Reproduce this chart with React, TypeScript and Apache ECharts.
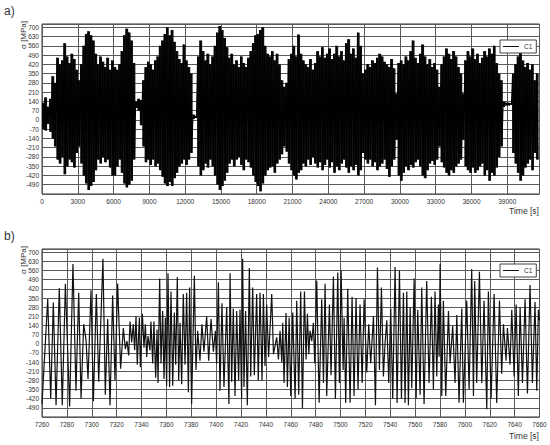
import React, { useEffect, useRef } from "react";
import * as echarts from "echarts";

// Panel a: per-bin envelope (max / min) of the stress signal, bins of 200 s starting at 0 s
const aBinWidth = 200;
const aHi = [
  130, 170, 100, 160, 330, 280, 470, 420, 450, 580, 480, 430, 500, 460, 380,
  300, 420, 560, 650, 670, 640, 600, 500, 420, 480, 440, 400, 470, 380, 450,
  400, 380, 420, 520, 640, 690, 660, 600, 430, 140, 160, 150, 300, 400, 440,
  420, 380, 450, 480, 560, 600, 650, 700, 640, 680, 590, 520, 460, 430, 570,
  450, 400, 350, 40, 30, 480, 600, 520, 450, 500, 420, 480, 560, 660, 710,
  680, 620, 550, 470, 500, 420, 450, 400, 480, 430, 400, 470, 520, 580, 640,
  650, 680, 700, 560, 500, 480, 520, 450, 500, 420, 300, 250, 280, 460, 500,
  560, 480, 645, 500, 450, 420, 400, 460, 380, 430, 520, 480, 550, 470, 500,
  540, 460, 500, 560, 480, 520, 450, 580, 610, 500, 540, 470, 660, 560, 350,
  380, 420, 400, 450, 430, 470, 500, 480, 440, 420, 400, 460, 390, 200, 430,
  450, 420, 480, 450, 520, 600, 470, 430, 500, 570, 480, 420, 460, 400, 430,
  380, 250, 420, 480, 540, 500, 460, 520, 480, 400, 350, 200, 450, 520, 480,
  540, 460, 500, 430, 470, 520, 480, 540, 500, 560, 430, 350, 300, 140, 130,
  130, 125, 350, 420, 480, 510, 450, 400, 430, 380, 420, 300, 350,
];
const aLo = [
  -70, -80, -30, -90, -140, -200, -300, -330, -280, -410, -350, -300, -320, -360, -250,
  -200, -330, -420, -480, -530, -500, -470, -380, -300, -330, -280, -320, -300, -360, -420,
  -420, -350, -300, -400, -480, -510, -490, -460, -300, 90, 70, -40, -200, -320, -300,
  -340, -300, -350, -330, -380, -430, -480, -500, -470, -500, -440, -400, -350, -330, -300,
  -340, -300, -250, 10, 15, -350, -420, -380, -330, -360, -300, -350, -420, -490, -530,
  -500, -460, -400, -330, -300, -350, -300, -280, -340, -380, -300, -320, -360, -420, -470,
  -500, -540, -480, -420, -380, -360, -350, -400, -330, -300, -260, -200, -240, -330, -380,
  -420, -450, -400, -380, -330, -350, -300, -340, -280, -330, -360, -320, -380, -340, -300,
  -360, -320, -400, -350, -380, -330, -300, -360, -400, -350, -380, -340, -420, -380, -250,
  -300, -330, -300, -350, -320, -380, -350, -330, -300, -370, -430, -350, -300, -150, -420,
  -460, -400, -350, -380, -340, -360, -320, -300, -350, -420, -440, -380, -330, -310, -340,
  -300, -200, -320, -360, -400, -420, -380, -400, -350, -330, -300, -150, -350, -380, -400,
  -360, -400, -380, -350, -330, -420, -380, -460, -400, -420, -360, -280, -200, 100, 110,
  110, 115, -250, -330, -400, -460, -420, -360, -330, -300, -380, -250, -300,
];

// Panel b: turning points of the signal between 7260 s and 7660 s
const bT = [
  7260.0, 7264.6, 7267.0, 7269.1, 7271.3, 7273.9, 7276.3, 7278.8, 7282.2, 7284.9,
  7287.3, 7289.5, 7291.4, 7293.5, 7295.4, 7297.0, 7299.4, 7301.3, 7303.7, 7305.6,
  7309.0, 7310.9, 7312.8, 7314.7, 7316.8, 7318.7, 7320.8, 7323.2, 7325.4, 7327.0,
  7328.3, 7329.7, 7330.8, 7332.1, 7333.4, 7334.5, 7335.6, 7336.6, 7338.3, 7339.1,
  7340.7, 7342.0, 7343.1, 7344.2, 7345.2, 7346.8, 7347.6, 7349.0, 7350.0, 7351.4,
  7352.5, 7353.3, 7354.6, 7355.7, 7357.0, 7358.1, 7359.2, 7360.2, 7361.3, 7362.6,
  7363.7, 7365.1, 7366.4, 7367.5, 7368.8, 7369.9, 7371.0, 7372.3, 7373.6, 7375.0,
  7376.3, 7377.7, 7378.7, 7380.3, 7382.5, 7383.8, 7385.2, 7387.0, 7388.6, 7390.2,
  7392.4, 7394.0, 7395.9, 7397.8, 7399.4, 7400.4, 7401.8, 7403.1, 7404.7, 7406.3,
  7408.5, 7410.3, 7411.2, 7412.5, 7413.8, 7415.2, 7416.5, 7418.1, 7419.2, 7420.5,
  7421.3, 7422.4, 7423.7, 7425.1, 7426.7, 7427.8, 7429.4, 7430.7, 7432.6, 7433.9,
  7435.3, 7436.9, 7438.0, 7439.3, 7440.6, 7442.2, 7444.7, 7446.1, 7448.7, 7450.1,
  7451.4, 7452.8, 7453.6, 7454.6, 7456.2, 7457.3, 7458.7, 7460.0, 7461.6, 7463.5,
  7464.8, 7466.4, 7468.0, 7469.4, 7471.0, 7472.3, 7473.4, 7474.5, 7475.5, 7476.9,
  7478.2, 7479.3, 7480.9, 7482.8, 7484.9, 7486.3, 7487.6, 7488.9, 7491.1, 7492.4,
  7494.3, 7495.9, 7497.8, 7499.1, 7500.5, 7502.1, 7502.9, 7504.2, 7505.8, 7507.7,
  7509.3, 7510.9, 7512.5, 7514.1, 7515.7, 7517.4, 7519.0, 7521.1, 7522.7, 7524.3,
  7526.5, 7528.1, 7529.7, 7531.3, 7532.9, 7534.5, 7535.8, 7537.2, 7538.8, 7540.4,
  7542.0, 7543.9, 7545.5, 7547.4, 7549.0, 7550.6, 7551.9, 7553.3, 7554.6, 7556.0,
  7557.3, 7559.2, 7560.8, 7562.1, 7564.0, 7565.3, 7567.2, 7569.3, 7571.2, 7573.1,
  7574.7, 7576.0, 7577.4, 7578.7, 7579.3, 7580.1, 7581.4, 7582.7, 7584.6, 7586.8,
  7588.1, 7590.2, 7592.1, 7593.5, 7595.3, 7597.5, 7598.8, 7601.5, 7603.4, 7605.5,
  7606.9, 7607.9, 7609.5, 7611.7, 7613.6, 7615.4, 7617.6, 7618.9, 7621.1, 7623.5,
  7625.6, 7627.8, 7629.6, 7631.0, 7633.1, 7634.2, 7636.3, 7637.7, 7639.6, 7641.2,
  7643.0, 7644.4, 7646.3, 7648.4, 7650.3, 7652.4, 7654.3, 7656.4, 7657.8, 7659.1,
  7660.0,
];
const bV = [
  -460, 343, -420, 316, -470, 427, -470, 460, -480, 610,
  -360, 390, -420, 150, 30, -270, 410, -440, 380, -290,
  650, -390, 190, -470, 370, -280, 460, -190, 120, -40,
  20, -90, 170, 10, 150, -50, 210, -160, 200, -180,
  230, -30, 150, -100, 60, -50, 170, -150, 170, -260,
  110, -300, 500, -150, 250, -270, 200, -320, 540, -330,
  400, -320, 240, -160, 510, -280, 160, -310, 380, -160,
  390, -370, 430, -460, 520, -200, 100, -130, 150, -60,
  210, -130, 190, -60, 100, -150, 470, -360, 310, -330,
  280, -460, 540, -290, 270, -400, 250, -280, 260, -420,
  650, -330, 250, -470, 580, -250, 430, -240, 380, -280,
  390, -280, 380, -170, 300, -100, 380, -80, 50, -120,
  100, -140, 160, -300, 236, -330, 200, -400, 240, -420,
  330, -390, 400, -495, 400, -120, 230, -80, 100, 20,
  160, -150, 484, -450, 340, -300, 460, -400, 300, -240,
  514, -420, 546, -300, 560, -200, 200, -452, 420, -450,
  360, -400, 350, -350, 300, -300, 340, -220, 150, -150,
  210, -470, 583, -200, 430, -250, 0, 180, -300, 270,
  -420, 588, -452, 560, -420, 390, -452, 400, -470, 280,
  -340, 500, -420, 260, -390, 430, -460, 480, -300, 360,
  -350, 400, -250, 300, -100, 613, -400, 330, -400, 250,
  -150, 137, -300, 220, -450, 270, -450, 330, -350, 571,
  -400, 480, -300, 550, -300, 330, -500, 400, -420, 380,
  -453, 330, -230, 150, -130, 120, -160, 260, -250, 300,
  -400, 280, -300, 340, -380, 450, -300, 320, -360, 260,
  180,
];

const yMin = -560;
const yMax = 725;
const yStep = 70;
const aTimeMax = 41700;
const aTimeStep = 3000;
const bTimeMin = 7260;
const bTimeMax = 7660;
const bTimeStep = 20;

const FONT = "'Liberation Sans', Arial, sans-serif";
const GRID_COLOR = "#5a5a5a";
const TEXT_COLOR = "#333";

export default function App() {
  const ref = useRef<HTMLDivElement>(null);

  useEffect(() => {
    if (!ref.current) return;
    const chart = echarts.init(ref.current, undefined, { renderer: "svg" });

    // zig-zag trace through each bin's maximum and minimum
    const aData: [number, number][] = [];
    for (let i = 0; i < aHi.length; i++) {
      const t = i * aBinWidth;
      aData.push([t + aBinWidth * 0.25, aHi[i]]);
      aData.push([t + aBinWidth * 0.75, aLo[i]]);
    }
    // dense core of each bin: [bin start, bin end, min, max]
    const aBins = aHi.map((v, i) => [i * aBinWidth, (i + 1) * aBinWidth, aLo[i], v]);
    const bData = bT.map((t, i) => [t, bV[i]]);

    const yLabel = (v: number) =>
      v >= -490 && v <= 700 && v % yStep === 0 ? String(v) : "";

    const yAxisCommon = (gridIndex: number) => ({
      type: "value" as const,
      gridIndex,
      min: yMin,
      max: yMax,
      interval: yStep,
      axisLine: { show: false },
      axisTick: { show: false },
      axisLabel: {
        fontSize: 6.5,
        fontFamily: FONT,
        color: TEXT_COLOR,
        margin: 3,
        formatter: yLabel,
      },
      splitLine: { show: true, lineStyle: { color: GRID_COLOR, width: 1 } },
    });

    const legendCommon = {
      orient: "horizontal" as const,
      data: ["C1"],
      left: 500,
      icon: "rect",
      itemWidth: 16,
      itemHeight: 1,
      itemGap: 0,
      padding: [3, 4, 3, 3],
      borderColor: "#444",
      borderWidth: 1,
      backgroundColor: "#fff",
      selectedMode: false,
      textStyle: { fontSize: 6.5, fontFamily: FONT, color: TEXT_COLOR, padding: [0, 0, 0, 0] },
    };

    chart.setOption({
      animation: false,
      backgroundColor: "#fff",
      grid: [
        { left: 42, top: 24, width: 497.5, height: 170, show: true, borderColor: "#333", borderWidth: 1, backgroundColor: "transparent" },
        { left: 42, top: 249, width: 497.5, height: 168, show: true, borderColor: "#333", borderWidth: 1, backgroundColor: "transparent" },
      ],
      xAxis: [
        {
          type: "value",
          gridIndex: 0,
          min: 0,
          max: aTimeMax,
          interval: aTimeStep,
          axisLine: { show: false },
          axisTick: { show: false },
          axisLabel: {
            fontSize: 6.5,
            fontFamily: FONT,
            color: TEXT_COLOR,
            margin: 4,
            formatter: (v: number) => (v % aTimeStep === 0 && v < aTimeMax ? String(v) : ""),
          },
          splitLine: { show: true, lineStyle: { color: GRID_COLOR, width: 1 } },
        },
        {
          type: "value",
          gridIndex: 1,
          min: bTimeMin,
          max: bTimeMax,
          interval: bTimeStep,
          axisLine: { show: false },
          axisTick: { show: false },
          axisLabel: {
            fontSize: 6.5,
            fontFamily: FONT,
            color: TEXT_COLOR,
            margin: 4,
            formatter: (v: number) => String(v),
          },
          splitLine: { show: true, lineStyle: { color: GRID_COLOR, width: 1 } },
        },
      ],
      yAxis: [yAxisCommon(0), yAxisCommon(1)],
      legend: [
        { ...legendCommon, top: 40 },
        { ...legendCommon, top: 264 },
      ],
      series: [
        {
          type: "custom",
          xAxisIndex: 0,
          yAxisIndex: 0,
          data: aBins,
          silent: true,
          clip: true,
          encode: { x: [0, 1], y: [2, 3] },
          renderItem: (params: any, api: any) => {
            const p1 = api.coord([api.value(0), api.value(3)]);
            const p2 = api.coord([api.value(1), api.value(2)]);
            return {
              type: "rect",
              shape: { x: p1[0], y: p1[1], width: p2[0] - p1[0] + 0.3, height: p2[1] - p1[1] },
              style: { fill: "#0d0d0d" },
            };
          },
        },
        {
          name: "C1",
          type: "line",
          xAxisIndex: 0,
          yAxisIndex: 0,
          data: aData,
          symbol: "none",
          silent: true,
          lineStyle: { color: "#000", width: 1.2 },
          itemStyle: { color: "#111" },
        },
        {
          name: "C1",
          type: "line",
          xAxisIndex: 1,
          yAxisIndex: 1,
          data: bData,
          symbol: "none",
          silent: true,
          lineStyle: { color: "#111", width: 1.2 },
          itemStyle: { color: "#111" },
        },
      ],
      graphic: [
        { type: "text", left: 4, top: 5, style: { text: "a)", fontSize: 12, fontFamily: FONT, fill: "#333" } },
        { type: "text", left: 4, top: 230, style: { text: "b)", fontSize: 12, fontFamily: FONT, fill: "#333" } },
        {
          type: "text",
          x: 23,
          y: 35,
          rotation: Math.PI / 2,
          style: { text: "σ [MPa]", fontSize: 8, fontFamily: FONT, fill: TEXT_COLOR, align: "center", verticalAlign: "middle" },
        },
        {
          type: "text",
          x: 23,
          y: 260,
          rotation: Math.PI / 2,
          style: { text: "σ [MPa]", fontSize: 8, fontFamily: FONT, fill: TEXT_COLOR, align: "center", verticalAlign: "middle" },
        },
        {
          type: "text",
          x: 539,
          y: 211,
          style: { text: "Time [s]", fontSize: 8.5, fontFamily: FONT, fill: TEXT_COLOR, align: "right", verticalAlign: "middle" },
        },
        {
          type: "text",
          x: 539,
          y: 436,
          style: { text: "Time [s]", fontSize: 8.5, fontFamily: FONT, fill: TEXT_COLOR, align: "right", verticalAlign: "middle" },
        },
      ],
    });

    return () => chart.dispose();
  }, []);

  return (
    <div
      ref={ref}
      style={{ position: "absolute", left: 0, top: 0, width: 550, height: 445 }}
    />
  );
}
